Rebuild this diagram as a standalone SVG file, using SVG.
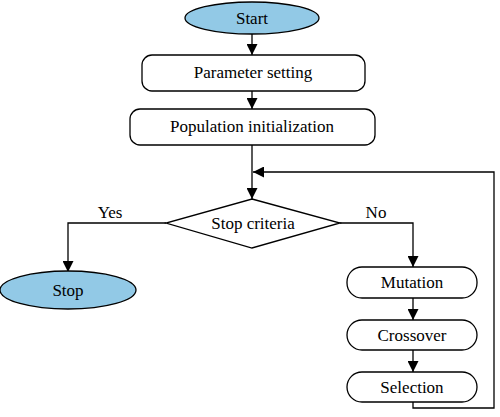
<svg xmlns="http://www.w3.org/2000/svg" width="500" height="417" viewBox="0 0 500 417">
<style>
.term{fill:#92c9e6;stroke:#000;stroke-width:1.3}
.box{fill:#fff;stroke:#000;stroke-width:1.3}
.t{font-family:"Liberation Serif","Times New Roman",serif;font-size:17px;fill:#000;text-anchor:middle}
.c{fill:none;stroke:#000;stroke-width:1.3}
</style>
<defs>
<marker id="ah" viewBox="0 0 10 10" refX="10" refY="5" markerWidth="11" markerHeight="11" markerUnits="userSpaceOnUse" orient="auto">
<path d="M0,0 L10,5 L0,10 Z" fill="#000"/>
</marker>
</defs>
<rect width="500" height="417" fill="#fff"/>
<g id="connectors">
<path class="c" d="M252,34 V55" marker-end="url(#ah)"/>
<path class="c" d="M252,91 V109" marker-end="url(#ah)"/>
<path class="c" d="M252,145 V199" marker-end="url(#ah)"/>
<path class="c" d="M166,223 H68 V272" marker-end="url(#ah)"/>
<path class="c" d="M340,223 H413 V267" marker-end="url(#ah)"/>
<path class="c" d="M413,298 V320" marker-end="url(#ah)"/>
<path class="c" d="M413,350 V372" marker-end="url(#ah)"/>
<path class="c" d="M413,402 V408 H494 V172 H253" marker-end="url(#ah)"/>
<text class="t" x="110" y="218">Yes</text>
<text class="t" x="376" y="218">No</text>
</g>
<g id="start">
<ellipse class="term" cx="252" cy="18" rx="67" ry="16"/>
<text class="t" x="252" y="24">Start</text>
</g>
<g id="param">
<rect class="box" x="142" y="55" width="223" height="36" rx="10"/>
<text class="t" x="253" y="78">Parameter setting</text>
</g>
<g id="init">
<rect class="box" x="130" y="109" width="245" height="36" rx="10"/>
<text class="t" x="252" y="132">Population initialization</text>
</g>
<g id="criteria">
<polygon class="box" points="252,199 340,223 252,248 166,223"/>
<text class="t" x="253" y="229">Stop criteria</text>
</g>
<g id="stop">
<ellipse class="term" cx="68" cy="290" rx="68" ry="19"/>
<text class="t" x="68" y="296">Stop</text>
</g>
<g id="mutation">
<rect class="box" x="347" y="267" width="130" height="31" rx="15"/>
<text class="t" x="412" y="288">Mutation</text>
</g>
<g id="crossover">
<rect class="box" x="347" y="320" width="130" height="30" rx="15"/>
<text class="t" x="412" y="341">Crossover</text>
</g>
<g id="selection">
<rect class="box" x="347" y="372" width="130" height="30" rx="15"/>
<text class="t" x="412" y="393">Selection</text>
</g>
</svg>
